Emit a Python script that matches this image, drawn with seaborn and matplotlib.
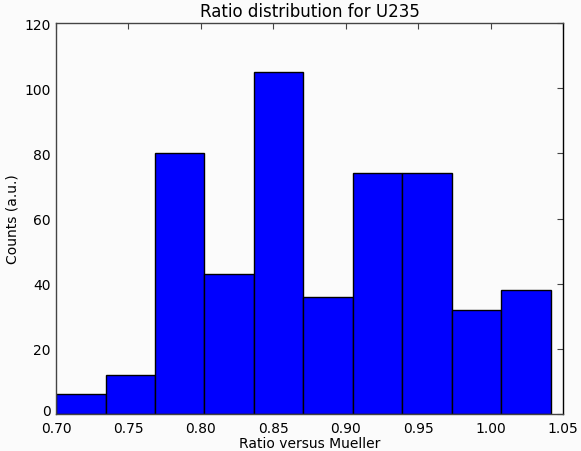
import numpy as np
import pandas as pd
import seaborn as sns
import matplotlib
matplotlib.use("Agg")
import matplotlib.pyplot as plt
import matplotlib.transforms as mtransforms

# Histogram of ratio values: bin edges and counts per bin
bin_edges = [0.7000, 0.7342, 0.7683, 0.8025, 0.8367, 0.8708, 0.9050, 0.9392, 0.9733, 1.0075, 1.0417]
counts = [6, 12, 80, 43, 105, 36, 74, 74, 32, 38]
x_ticks = [0.70, 0.75, 0.80, 0.85, 0.90, 0.95, 1.00, 1.05]
y_ticks = [0, 20, 40, 60, 80, 100, 120]

centers = [(a + b) / 2 for a, b in zip(bin_edges[:-1], bin_edges[1:])]
df = pd.DataFrame({"ratio": centers, "count": counts})

sns.set_style("white")
plt.rcParams["font.family"] = ["DejaVu Sans"]

fig = plt.figure(figsize=(5.81, 4.52), dpi=100, facecolor="#fbfbfb")
ax = fig.add_axes([56 / 581, 37 / 452, 507 / 581, 391 / 452])
ax.set_facecolor("#fbfbfb")

sns.histplot(data=df, x="ratio", weights="count", bins=bin_edges,
             color="#0000ff", alpha=1.0, edgecolor="black", linewidth=1.0, ax=ax)

ax.set_xlim(0.70, 1.05)
ax.set_ylim(0, 120)
ax.set_xticks(x_ticks)
ax.set_xticklabels([f"{t:.2f}" for t in x_ticks])
ax.set_yticks(y_ticks)
ax.tick_params(direction="in", length=4, width=0.8, top=True, right=True,
               labelsize=10, labelcolor="black", color="#444444")
ax.tick_params(axis="x", pad=5)
ax.tick_params(axis="y", pad=4)
for s in ax.spines.values():
    s.set_visible(True)
    s.set_color("#444444")
    s.set_linewidth(1.0)
ax.spines["right"].set_color("black")

# nudge the lowest y tick label up so it clears the first x tick label
lowest = ax.yaxis.get_major_ticks()[0].label1
lowest.set_transform(lowest.get_transform()
                     + mtransforms.ScaledTranslation(0, 3 / 72, fig.dpi_scale_trans))

ax.set_title("Ratio distribution for U235", fontsize=12, pad=5, color="black")
ax.set_xlabel("Ratio versus Mueller", fontsize=10, color="black", labelpad=1)
ax.set_ylabel("Counts (a.u.)", fontsize=10, color="black", labelpad=3)

fig.savefig("out.png", dpi=100, facecolor=fig.get_facecolor())
